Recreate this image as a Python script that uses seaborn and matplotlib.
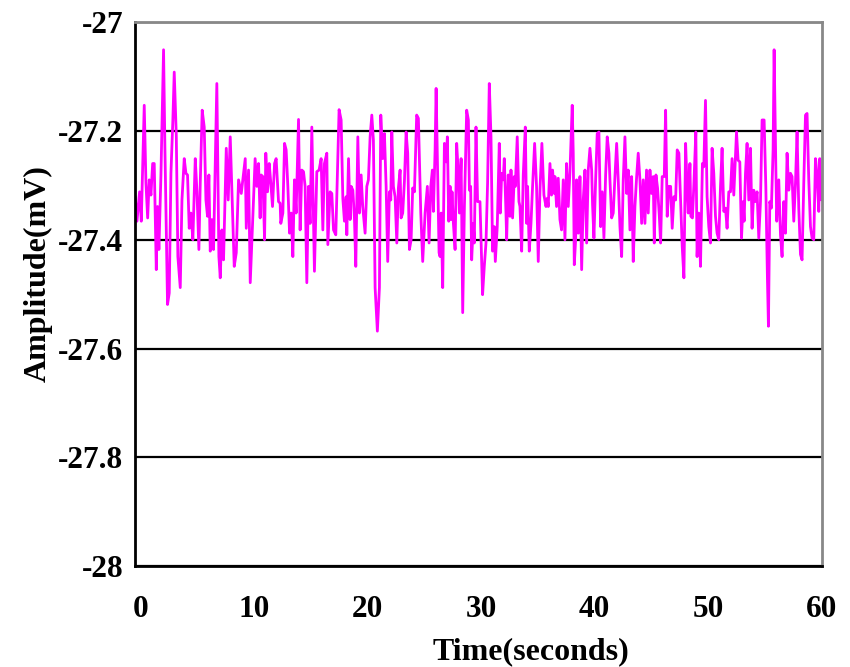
import numpy as np
import seaborn as sns
import matplotlib
matplotlib.use("Agg")
import matplotlib.pyplot as plt

# sample times (s) and amplitudes (mV)
time_s = [
  -0.44, -0.29, -0.06, 0.09, 0.35, 0.50, 0.65, 0.79, 0.94, 1.09, 1.23, 1.41, 1.52, 1.64, 1.82,
  2.05, 2.17, 2.40, 2.55, 2.70, 2.87, 2.99, 3.17, 3.31, 3.52, 3.67, 3.87, 4.02, 4.16, 4.31,
  4.46, 4.63, 4.84, 4.99, 5.16, 5.28, 5.45, 5.63, 5.78, 5.92, 6.04, 6.16, 6.30, 6.45, 6.74,
  6.92, 7.04, 7.18, 7.33, 7.57, 7.74, 7.92, 8.27, 8.45, 8.65, 8.89, 9.24, 9.33, 9.53, 9.68,
  10.11, 10.26, 10.41, 10.55, 10.64, 10.79, 10.94, 11.05, 11.20, 11.35, 11.49, 11.64, 11.82, 11.96,
  12.17, 12.31, 12.37, 12.55, 12.70, 12.84, 12.99, 13.14, 13.28, 13.43, 13.57, 13.72, 13.93, 14.07,
  14.22, 14.37, 14.51, 14.66, 14.81, 14.95, 15.10, 15.33, 15.54, 15.74, 15.92, 16.07, 16.21, 16.42,
  16.51, 16.71, 16.86, 17.01, 17.21, 17.50, 17.68, 17.83, 17.97, 18.12, 18.18, 18.33, 18.47, 18.56,
  18.71, 18.85, 18.97, 19.15, 19.29,
  19.44, 19.58, 19.79, 19.94, 20.08, 20.23, 20.38, 20.52, 20.67, 20.87, 21.05, 21.17, 21.34, 21.49,
  21.64, 21.78, 21.93, 22.05, 22.14, 22.28, 22.43, 22.58, 22.72, 22.87, 22.96, 23.10, 23.25, 23.40,
  23.54, 23.69, 23.84, 23.98, 24.13, 24.33, 24.48, 24.69, 24.86, 25.07, 25.27, 25.42, 25.57, 25.71,
  25.80, 25.95, 26.04, 26.15, 26.30, 26.39, 26.48, 26.62, 26.77, 26.92, 27.03, 27.15, 27.27, 27.36,
  27.44, 27.56, 27.71, 27.85, 28.00, 28.09, 28.24, 28.38, 28.53, 28.73, 28.88, 28.97,
  29.08, 29.17, 29.31, 29.40, 29.55, 29.69, 29.90, 30.13, 30.28, 30.43, 30.57, 30.72, 30.87, 31.01,
  31.16, 31.25, 31.42, 31.60, 31.69, 31.81, 31.95, 32.04, 32.19, 32.25, 32.39, 32.54, 32.63, 32.77,
  32.92, 33.01, 33.18, 33.33, 33.42, 33.57, 33.71, 33.89, 34.01, 34.09, 34.24, 34.39, 34.53, 34.71,
  34.88, 35.03, 35.18, 35.35, 35.53, 35.71, 35.82, 35.91, 36.06, 36.20, 36.29, 36.44, 36.50, 36.64,
  36.79, 36.94, 37.08, 37.23, 37.38, 37.52, 37.67, 37.82, 38.02, 38.11, 38.20, 38.32, 38.40, 38.55,
  38.70,
  38.85, 38.99, 39.14, 39.29, 39.43, 39.58, 39.73, 39.81, 39.93, 40.08, 40.22, 40.37, 40.52, 40.66,
  40.81, 40.96, 41.10, 41.25, 41.34, 41.49, 41.63, 41.78, 41.93, 42.07, 42.22, 42.37, 42.51, 42.66,
  42.81, 42.95, 43.10, 43.25, 43.39, 43.54, 43.69, 43.83, 43.98, 44.13, 44.27, 44.42, 44.56, 44.71,
  44.86, 45.00, 45.15, 45.24, 45.39, 45.53, 45.68, 45.80, 45.94, 46.12, 46.24, 46.38, 46.53, 46.68,
  46.82, 46.97, 47.12, 47.26, 47.41, 47.56, 47.70, 47.85, 48.00, 48.14, 48.23, 48.38,
  48.46, 48.60, 48.72, 48.90, 49.01, 49.16, 49.31, 49.48, 49.60, 49.75, 49.89, 50.04, 50.19, 50.33,
  50.48, 50.63, 50.77, 50.92, 51.07, 51.21, 51.36, 51.51, 51.65, 51.80, 51.95, 52.09, 52.24, 52.48,
  52.62, 52.77, 52.92, 53.06, 53.15, 53.27, 53.41, 53.56, 53.71, 53.85, 54.00, 54.15, 54.29, 54.44,
  54.59, 54.73, 54.91, 55.06, 55.20, 55.29, 55.41, 55.55, 55.70, 55.79, 55.94, 56.02, 56.20, 56.35,
  56.49, 56.64, 56.79, 56.93, 57.08, 57.23, 57.37, 57.52, 57.67, 57.81, 57.96, 58.11, 58.25, 58.40,
  58.55, 58.69, 58.84, 58.99, 59.13, 59.28, 59.43, 59.57, 59.72, 59.81, 59.95,
]

amp_mv = [
  -27.321, -27.366, -27.312, -27.366, -27.153, -27.296, -27.360, -27.290, -27.318, -27.260, -27.260, -27.455, -27.339, -27.418, -27.281,
  -27.051, -27.232, -27.519, -27.498, -27.278, -27.180, -27.092, -27.208, -27.431, -27.488, -27.327, -27.251, -27.278, -27.281, -27.379,
  -27.351, -27.400, -27.251, -27.312, -27.418, -27.296, -27.162, -27.193, -27.327, -27.357, -27.281, -27.421, -27.363, -27.418, -27.113,
  -27.431, -27.470, -27.382, -27.437, -27.232, -27.327, -27.211, -27.449, -27.424, -27.290, -27.315, -27.251, -27.379, -27.272, -27.479,
  -27.251, -27.302, -27.260, -27.360, -27.281, -27.284, -27.400, -27.241, -27.312, -27.260, -27.296, -27.339, -27.260, -27.251,
  -27.330, -27.333, -27.370, -27.351, -27.223, -27.235, -27.302, -27.388, -27.351, -27.431, -27.290, -27.351, -27.179, -27.382,
  -27.272, -27.275, -27.302, -27.479, -27.302, -27.370, -27.193, -27.458, -27.275, -27.272, -27.251, -27.382, -27.260, -27.241,
  -27.409, -27.312, -27.315, -27.382, -27.391, -27.161, -27.180, -27.324, -27.366, -27.321, -27.391, -27.251, -27.363, -27.302,
  -27.309, -27.360, -27.449, -27.211, -27.351,
  -27.281, -27.339, -27.388, -27.302, -27.290, -27.211, -27.171, -27.217, -27.488, -27.568, -27.488, -27.171, -27.251, -27.205,
  -27.302, -27.440, -27.312, -27.327, -27.202, -27.302, -27.321, -27.406, -27.305, -27.272, -27.360, -27.351, -27.293, -27.202,
  -27.241, -27.418, -27.400, -27.305, -27.312, -27.171, -27.177, -27.351, -27.440, -27.351, -27.302, -27.406, -27.302, -27.272,
  -27.348, -27.235, -27.122, -27.248, -27.424, -27.431, -27.351, -27.488, -27.223, -27.257, -27.211, -27.366, -27.302, -27.363,
  -27.312, -27.370, -27.418, -27.223, -27.281, -27.351, -27.251, -27.534, -27.339, -27.162, -27.180, -27.309,
  -27.302, -27.437, -27.370, -27.406, -27.193, -27.330, -27.330, -27.501, -27.449, -27.406, -27.296, -27.113, -27.211, -27.421,
  -27.376, -27.440, -27.376, -27.223, -27.351, -27.278, -27.290, -27.251, -27.351, -27.400, -27.281, -27.357, -27.272, -27.360,
  -27.284, -27.302, -27.211, -27.330, -27.339, -27.421, -27.281, -27.193, -27.370, -27.302, -27.421, -27.370, -27.302, -27.223,
  -27.302, -27.440, -27.309, -27.223, -27.318, -27.339, -27.324, -27.339, -27.260, -27.318, -27.272, -27.315, -27.284, -27.339,
  -27.287, -27.363, -27.382, -27.290, -27.400, -27.260, -27.339, -27.275, -27.153, -27.241, -27.446, -27.400, -27.290, -27.388,
  -27.284,
  -27.455, -27.327, -27.272, -27.406, -27.272, -27.232, -27.272, -27.336, -27.397, -27.290, -27.205, -27.202, -27.376, -27.312,
  -27.397, -27.281, -27.211, -27.241, -27.290, -27.360, -27.351, -27.284, -27.223, -27.290, -27.376, -27.431, -27.290, -27.211,
  -27.315, -27.272, -27.382, -27.284, -27.440, -27.339, -27.284, -27.241, -27.290, -27.370, -27.290, -27.370, -27.272, -27.351,
  -27.272, -27.315, -27.284, -27.406, -27.281, -27.305, -27.354, -27.406, -27.284, -27.284, -27.162, -27.357, -27.302, -27.302,
  -27.379, -27.321, -27.327, -27.235, -27.241, -27.327, -27.412, -27.470, -27.223, -27.309, -27.351, -27.260,
  -27.357, -27.360, -27.302, -27.202, -27.431, -27.351, -27.449, -27.260, -27.266, -27.144, -27.321, -27.376, -27.406, -27.232,
  -27.278, -27.357, -27.388, -27.400, -27.302, -27.232, -27.348, -27.342, -27.379, -27.312, -27.312, -27.251, -27.318, -27.202,
  -27.254, -27.257, -27.397, -27.330, -27.366, -27.278, -27.223, -27.327, -27.232, -27.379, -27.309, -27.330, -27.312, -27.397,
  -27.330, -27.180, -27.180, -27.302, -27.470, -27.559, -27.330, -27.342, -27.235, -27.051, -27.266, -27.366, -27.290, -27.391,
  -27.431, -27.330, -27.388, -27.241, -27.309, -27.278, -27.284, -27.366, -27.296, -27.202, -27.342, -27.427, -27.437, -27.296,
  -27.171, -27.168, -27.290, -27.376, -27.397, -27.400, -27.251, -27.281, -27.348, -27.251, -27.327,
]

x_ticks = [0, 10, 20, 30, 40, 50, 60]
y_ticks = [-28, -27.8, -27.6, -27.4, -27.2, -27]
y_tick_labels = ["-28", "-27.8", "-27.6", "-27.4", "-27.2", "-27"]

sns.set_style("white")
plt.rcParams['font.family'] = ['Liberation Serif', 'DejaVu Serif']
plt.rcParams['font.weight'] = 'bold'
plt.rcParams['text.color'] = 'black'
plt.rcParams['axes.labelcolor'] = 'black'
plt.rcParams['xtick.color'] = 'black'
plt.rcParams['ytick.color'] = 'black'

fig = plt.figure(figsize=(8.5, 6.67), dpi=100)
ax = fig.add_axes([0.159, 0.151, 0.808, 0.816])

sns.lineplot(x=time_s, y=amp_mv, sort=False, estimator=None, color='#ff00ff', lw=2.0, ax=ax)

ax.set_xlim(-0.45, 60)
ax.set_ylim(-28, -27)
ax.set_xticks(x_ticks)
ax.set_yticks(y_ticks)
ax.set_yticklabels(y_tick_labels)

ax.yaxis.grid(True, color='black', lw=1.6)
ax.xaxis.grid(False)
ax.set_axisbelow(True)

for s in ['left', 'bottom']:
  ax.spines[s].set_color('black')
  ax.spines[s].set_linewidth(2)
for s in ['top', 'right']:
  ax.spines[s].set_color('#888888')
  ax.spines[s].set_linewidth(2)

ax.tick_params(axis='x', direction='inout', length=9, width=1.6, color='black',
               labelsize=22.5, pad=16)
ax.tick_params(axis='y', length=0, labelsize=22.5, pad=8.5)
for lab in ax.get_xticklabels() + ax.get_yticklabels():
  lab.set_fontweight('bold')

ax.set_xlabel("Time(seconds)", fontsize=23, fontweight='bold', labelpad=10, x=0.577)
ax.set_ylabel("Amplitude(mV)", fontsize=23, fontweight='bold', labelpad=4, y=0.537)

fig.savefig("out.png", dpi=100)
